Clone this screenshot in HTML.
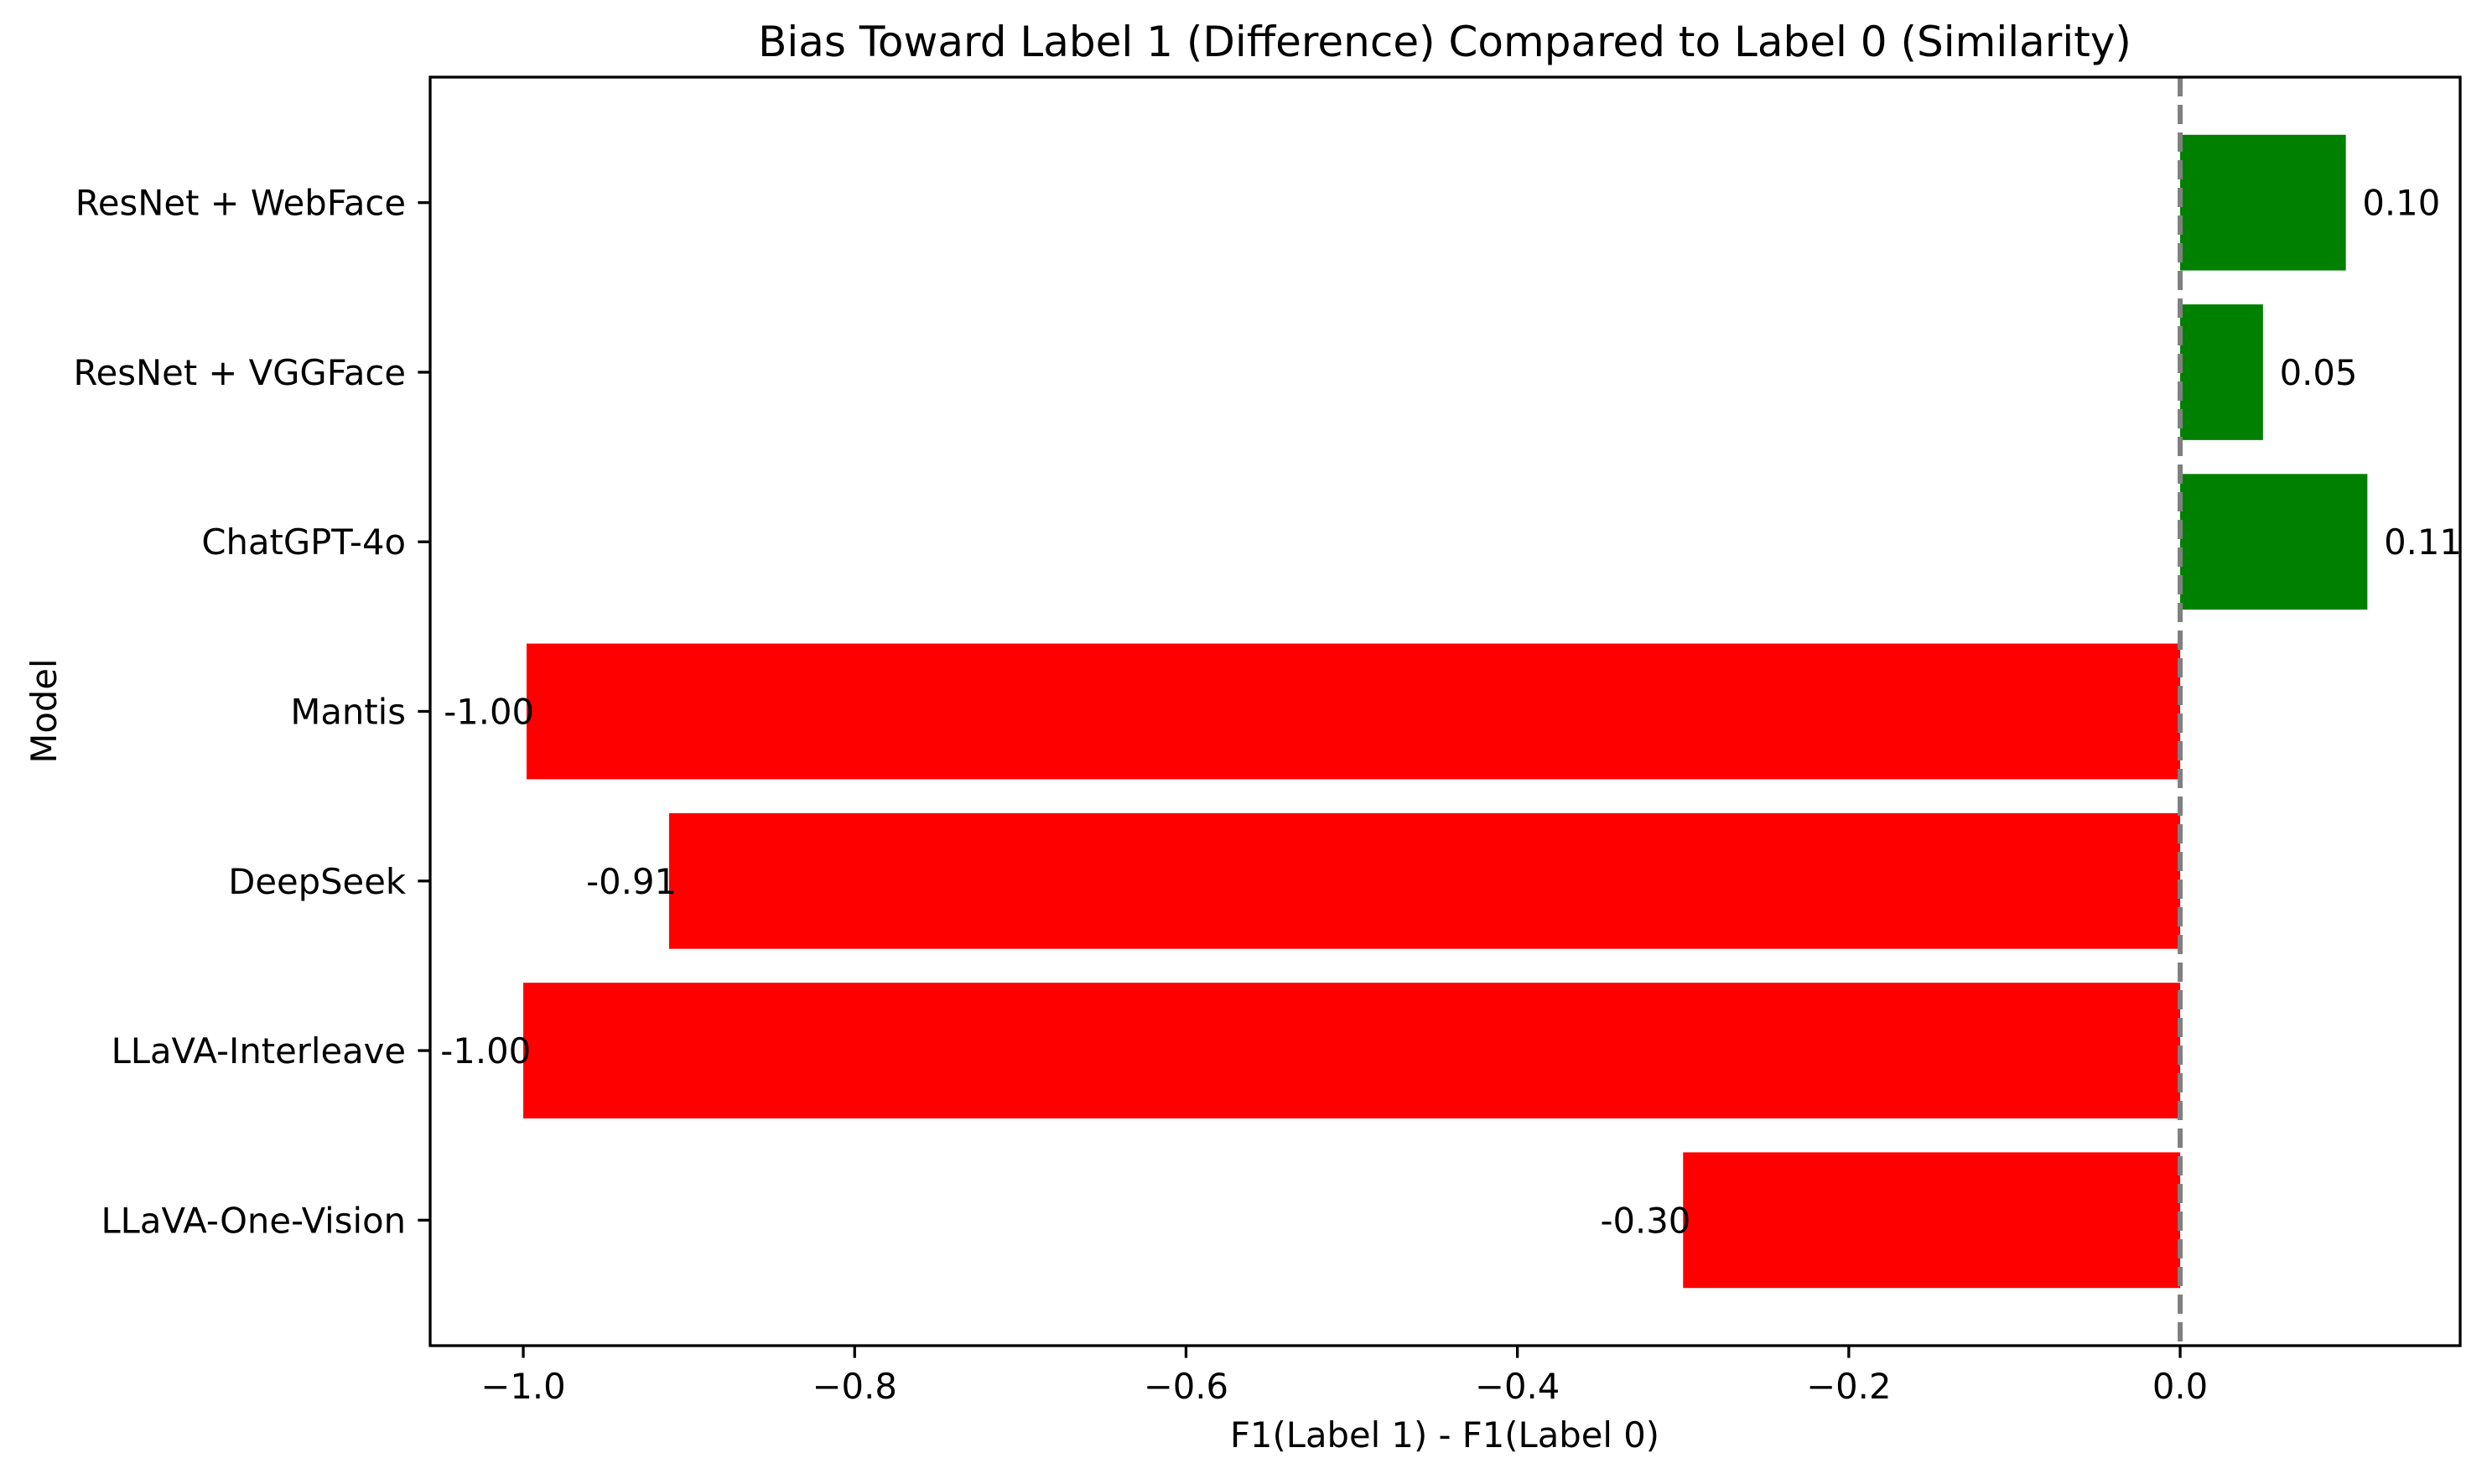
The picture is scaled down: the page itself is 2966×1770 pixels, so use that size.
<!DOCTYPE html>
<html><head><meta charset="utf-8"><style>
html,body{margin:0;padding:0;background:#fff;}
svg text{font-family:"DejaVu Sans","Liberation Sans",sans-serif;fill:#000;}
</style></head><body>
<svg id="chart" width="2966" height="1765" viewBox="0 0 2966 1765" xmlns="http://www.w3.org/2000/svg">
<rect width="2966" height="1765" fill="#fff"/>
<g id="bars"></g>
<g id="labels"></g>
<g id="xticks"></g>
<g id="yticks"></g>
<line id="zero" stroke="#808080" stroke-width="6" stroke-dasharray="23,10"/>
<rect x="513" y="92" width="2421" height="1513" fill="none" stroke="#000" stroke-width="3.3"/>
<text x="1723" y="67" font-size="50" text-anchor="middle">Bias Toward Label 1 (Difference) Compared to Label 0 (Similarity)</text>
<text x="1723" y="1726" font-size="41.7" text-anchor="middle">F1(Label 1) - F1(Label 0)</text>
<text x="0" y="0" font-size="41.7" text-anchor="middle" transform="translate(67,848) rotate(-90)">Model</text>
</svg>
<script>
const categories = ["LLaVA-One-Vision","LLaVA-Interleave","DeepSeek","Mantis","ChatGPT-4o","ResNet + VGGFace","ResNet + WebFace"];
const values = [-0.30,-1.00,-0.912,-0.998,0.113,0.05,0.10];
const valueLabels = ["-0.30","-1.00","-0.91","-1.00","0.11","0.05","0.10"];
const xTicks = [-1.0,-0.8,-0.6,-0.4,-0.2,0.0];
const xTickLabels = ["\u22121.0","\u22120.8","\u22120.6","\u22120.4","\u22120.2","0.0"];

const L=513,R=2934,T=92,B=1605;
const xMin=-1.0562,xMax=0.169;
const yMin=-0.74,yMax=categories.length-1+0.74;
const xs=v=>L+(v-xMin)/(xMax-xMin)*(R-L);
const ys=v=>B-(v-yMin)/(yMax-yMin)*(B-T);
const NS="http://www.w3.org/2000/svg";
function mk(tag,attrs,parent){const e=document.createElementNS(NS,tag);for(const k in attrs)e.setAttribute(k,attrs[k]);parent.appendChild(e);return e;}
const gb=document.getElementById('bars'),gl=document.getElementById('labels'),gx=document.getElementById('xticks'),gy=document.getElementById('yticks');
categories.forEach((c,i)=>{
  const v=values[i];
  const x0=Math.min(xs(0),xs(v)),x1=Math.max(xs(0),xs(v));
  const r=mk('rect',{x:x0,y:ys(i+0.4),width:x1-x0,height:ys(i-0.4)-ys(i+0.4),fill:v>=0?'#008000':'#ff0000'},gb);
  
  
  const t=mk('text',{x:xs(v>=0?v+0.01:v-0.05),y:ys(i)+15,'font-size':41.7},gl);
  t.textContent=valueLabels[i];
  
  
  const tk=mk('line',{x1:L,x2:L-14.6,y1:ys(i),y2:ys(i),stroke:'#000','stroke-width':3.3},gy);
  
  
  const tl=mk('text',{x:L-29,y:ys(i)+15,'font-size':41.7,'text-anchor':'end'},gy);
  tl.textContent=c;
  
  
});
xTicks.forEach((v,i)=>{
  const tk=mk('line',{x1:xs(v),x2:xs(v),y1:B,y2:B+14.6,stroke:'#000','stroke-width':3.3},gx);
  
  
  const tl=mk('text',{x:xs(v),y:B+63,'font-size':41.7,'text-anchor':'middle'},gx);
  tl.textContent=xTickLabels[i];
  
  
});
const z=document.getElementById('zero');
z.setAttribute('x1',xs(0));z.setAttribute('x2',xs(0));z.setAttribute('y1',T);z.setAttribute('y2',B);
</script>
</body></html>
